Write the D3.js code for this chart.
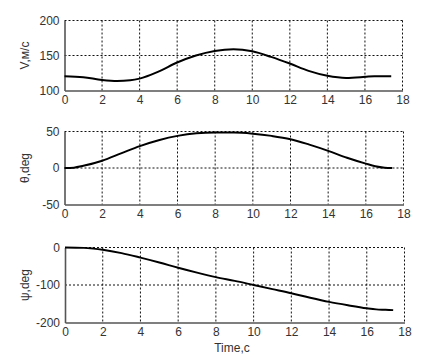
<!DOCTYPE html>
<html>
<head>
<meta charset="utf-8">
<script src="https://cdn.jsdelivr.net/npm/d3@7"></script>
<style>
  body { margin: 0; background: #fff; }
  text { font-family: "Liberation Sans", Arial, sans-serif; }
</style>
</head>
<body>
<script>
// data
let timeV = [0, 1, 2, 2.8, 3.5, 4, 5, 6, 7, 8, 9, 10, 11, 12, 13, 14, 15, 16, 16.5, 17.4];
let speed = [120.5, 119, 115, 113.5, 114.5, 117, 127, 140, 150, 156.5, 159, 156, 148, 138.5, 128, 121, 118, 119.5, 120.5, 120.5];

let timeT = [0, 0.5, 1, 2, 3, 4, 5, 6, 7, 8, 9, 10, 11, 12, 13, 14, 15, 16, 16.5, 17, 17.4];
let theta = [0, 0.5, 3, 10, 20, 30, 38, 44, 47.5, 48.5, 48.5, 47, 44, 39.5, 32, 23.5, 14, 6, 2.5, 0.5, 0];

let timeP = [0, 1, 1.5, 2, 3, 4, 5, 6, 7, 8, 9, 10, 11, 12, 13, 14, 15, 16, 16.5, 17, 17.4];
let psi = [0, -1, -3, -6, -15, -27, -40, -54, -67, -79, -89, -100, -111, -122, -134, -145, -154, -162, -165, -166, -167];

let xTicks = [0, 2, 4, 6, 8, 10, 12, 14, 16, 18];
let vTicks = [100, 150, 200];
let thetaTicks = [-50, 0, 50];
let psiTicks = [-200, -100, 0];

let width = 447, height = 364;

let svg = d3.select('body')
  .append('svg')
  .attr('width', width)
  .attr('height', height);

let panels = [
  { t: timeV, y: speed, ticks: vTicks, label: 'V,м/с', left: 64.5, right: 402.5, top: 20.5, bottom: 90.5 },
  { t: timeT, y: theta, ticks: thetaTicks, label: 'θ,deg', left: 64.5, right: 403.5, top: 131.5, bottom: 204.5 },
  { t: timeP, y: psi, ticks: psiTicks, label: 'ψ,deg', left: 65, right: 404.5, top: 247.5, bottom: 322.5 }
];

panels.forEach(p => {
  let x = d3.scaleLinear().domain([0, 18]).range([p.left, p.right]);
  let y = d3.scaleLinear().domain(d3.extent(p.ticks)).range([p.bottom, p.top]);
  let g = svg.append('g');

  // dotted grid
  g.selectAll('.vgrid')
    .data(xTicks.slice(1))
    .enter().append('line')
    .attr('x1', d => x(d)).attr('x2', d => x(d))
    .attr('y1', p.top).attr('y2', p.bottom)
    .attr('stroke', '#111').attr('stroke-width', 1)
    .attr('stroke-dasharray', '2,2');
  g.selectAll('.hgrid')
    .data(p.ticks.slice(1))
    .enter().append('line')
    .attr('x1', p.left).attr('x2', p.right)
    .attr('y1', d => y(d)).attr('y2', d => y(d))
    .attr('stroke', '#111').attr('stroke-width', 1)
    .attr('stroke-dasharray', '2,2');

  // axes (plain hyphen for negatives, like the original)
  let xAxis = g.append('g')
    .attr('transform', `translate(0,${p.bottom})`)
    .call(d3.axisBottom(x).tickValues(xTicks).tickSize(0).tickPadding(5).tickFormat(d => String(d)));
  let yAxis = g.append('g')
    .attr('transform', `translate(${p.left},0)`)
    .call(d3.axisLeft(y).tickValues(p.ticks).tickSize(0).tickPadding(5).tickFormat(d => String(d)));

  [xAxis, yAxis].forEach(a => {
    a.select('.domain').attr('stroke', '#555').attr('stroke-width', 1.6);
    a.selectAll('text').attr('font-size', 12).attr('fill', '#333')
      .attr('font-family', '"Liberation Sans", Arial, sans-serif');
  });

  // curve
  let line = d3.line()
    .x((d, i) => x(p.t[i]))
    .y(d => y(d))
    .curve(d3.curveMonotoneX);
  g.append('path')
    .datum(p.y)
    .attr('d', line)
    .attr('fill', 'none')
    .attr('stroke', '#000')
    .attr('stroke-width', 2);

  // y label
  g.append('text')
    .attr('transform', `translate(29,${(p.top + p.bottom) / 2}) rotate(-90)`)
    .attr('text-anchor', 'middle')
    .attr('font-size', 12)
    .attr('fill', '#333')
    .text(p.label);
});

svg.append('text')
  .attr('x', 232)
  .attr('y', 352)
  .attr('text-anchor', 'middle')
  .attr('font-size', 12)
  .attr('fill', '#333')
  .text('Time,c');
</script>
</body>
</html>
